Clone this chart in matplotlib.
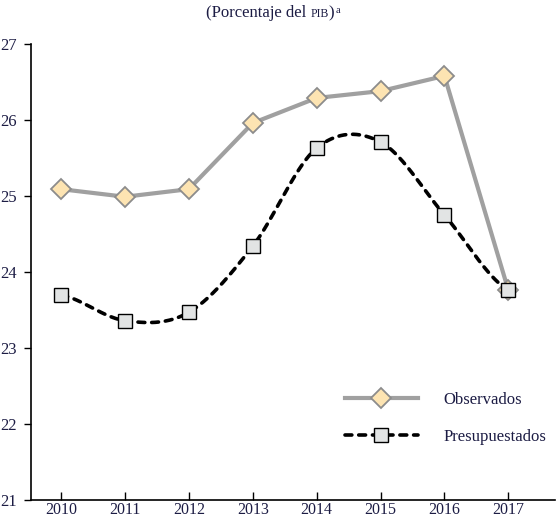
import numpy as np
import matplotlib.pyplot as plt

years = [2010, 2011, 2012, 2013, 2014, 2015, 2016, 2017]
observados = [25.09, 24.99, 25.09, 25.96, 26.29, 26.38, 26.58, 23.76]
presupuestados = [23.70, 23.36, 23.47, 24.34, 25.63, 25.71, 24.75, 23.76]
y_ticks = [21, 22, 23, 24, 25, 26, 27]

txt_color = '#1c1c44'
plt.rcParams['font.family'] = ['Liberation Serif', 'DejaVu Serif']


def cardinal(x, y, n=40):
    # curva tipo catmull-rom (tension 0) que pasa por los puntos
    x = np.asarray(x, float)
    y = np.asarray(y, float)
    yp = np.concatenate([[y[0]], y, [y[-1]]])
    m = (yp[2:] - yp[:-2]) / 2.0
    xs, ys = [], []
    for i in range(len(x) - 1):
        t = np.linspace(0, 1, n, endpoint=(i == len(x) - 2))
        h00 = 2 * t**3 - 3 * t**2 + 1
        h10 = t**3 - 2 * t**2 + t
        h01 = -2 * t**3 + 3 * t**2
        h11 = t**3 - t**2
        xs.append(x[i] + t * (x[i + 1] - x[i]))
        ys.append(h00 * y[i] + h10 * m[i] + h01 * y[i + 1] + h11 * m[i + 1])
    return np.concatenate(xs), np.concatenate(ys)


fig = plt.figure(figsize=(5.6, 5.18), dpi=100)
ax = fig.add_axes([31 / 560, 18 / 518, 524 / 560, 456 / 518])

dash = (1.9, 1.9)

# observados
ax.plot(years, observados, color='#a0a0a0', lw=3, zorder=2)
ax.plot(years, observados, ls='none', marker='D', markersize=10.5,
        markerfacecolor='#fde4b2', markeredgecolor='#8c8c8c', markeredgewidth=1.3, zorder=4)

# presupuestados (curva suavizada)
sx, sy = cardinal(years, presupuestados)
ax.plot(sx, sy, color='black', lw=2.6, dashes=dash, dash_capstyle='round', zorder=3)
ax.plot(years, presupuestados, ls='none', marker='s', markersize=9.5,
        markerfacecolor='#e2e4e4', markeredgecolor='black', markeredgewidth=1.0, zorder=5)

ax.set_xlim(2009.53, 2017.73)
ax.set_ylim(21, 27)
ax.set_xticks(years)
ax.set_yticks(y_ticks)
for s in ['top', 'right']:
    ax.spines[s].set_visible(False)
ax.spines['left'].set_linewidth(1.2)
ax.spines['bottom'].set_linewidth(1.2)
ax.tick_params(axis='y', direction='out', length=5, width=1, pad=5, labelsize=12, labelcolor=txt_color)
ax.tick_params(axis='x', direction='in', length=6, width=1, pad=1.5, labelsize=11.5, labelcolor=txt_color)

# leyenda
h1, = ax.plot([], [], color='#a0a0a0', lw=3, marker='D', markersize=10.5,
              markerfacecolor='#fde4b2', markeredgecolor='#8c8c8c', markeredgewidth=1.3)
h2, = ax.plot([], [], color='black', lw=2.6, dashes=dash, dash_capstyle='round', marker='s',
              markersize=9.5, markerfacecolor='#e2e4e4', markeredgecolor='black', markeredgewidth=1.0)
leg = ax.legend([h1, h2], ['Observados', 'Presupuestados'], loc='upper left',
                bbox_to_anchor=(0.57, 0.27), frameon=False, fontsize=12,
                handlelength=4.4, handletextpad=1.55, labelspacing=1.25, markerscale=1.0)
for t in leg.get_texts():
    t.set_color(txt_color)

# titulo con versalitas y superindice
y0 = 1 - 17 / 518
t1 = fig.text(206 / 560, y0, '(Porcentaje del', fontsize=12, color=txt_color, va='baseline')
fig.canvas.draw()
r = fig.canvas.get_renderer()
x1 = t1.get_window_extent(r).x1 / fig.bbox.width + 4 / 560
t2 = fig.text(x1, y0, 'PIB', fontsize=8.5, color=txt_color, va='baseline')
x2 = t2.get_window_extent(r).x1 / fig.bbox.width
t3 = fig.text(x2, y0, ')', fontsize=12, color=txt_color, va='baseline')
x3 = t3.get_window_extent(r).x1 / fig.bbox.width + 1 / 560
fig.text(x3, y0 + 4 / 518, 'a', fontsize=7.5, color=txt_color, va='baseline')

fig.savefig('out.png', dpi=100)
